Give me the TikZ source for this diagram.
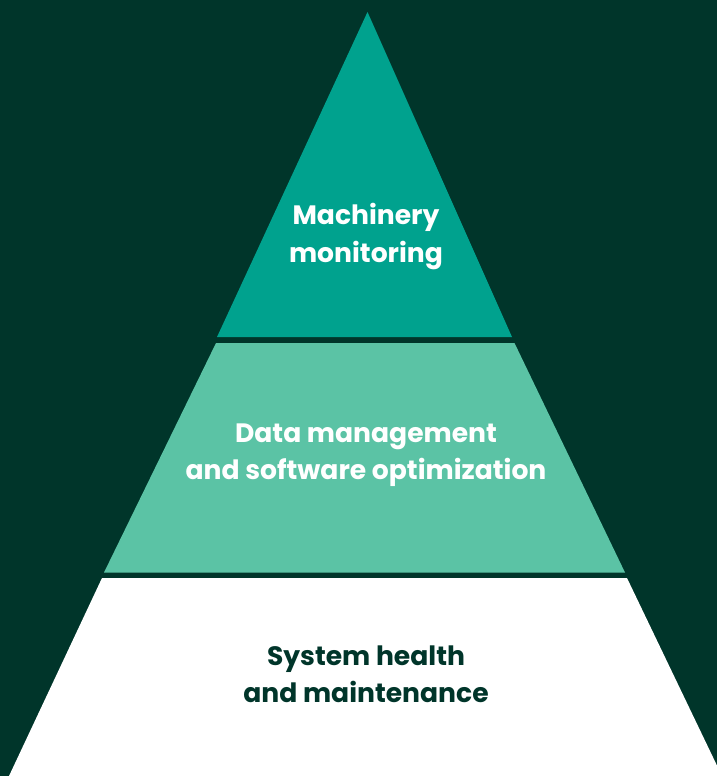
\documentclass[tikz,border=0pt]{standalone}
\usepackage{fontspec}
\setmainfont{Poppins}
\definecolor{bgdark}{HTML}{00352A}
\definecolor{tealtop}{HTML}{00A28E}
\definecolor{tealmid}{HTML}{5BC3A5}
\begin{document}
\begin{tikzpicture}[x=1pt,y=-1pt,
  tiertext/.style={font=\fontsize{26.6}{37.5}\selectfont\bfseries, align=center, text=white},
  darktext/.style={tiertext, text=bgdark}]
\fill[bgdark] (0,0) rectangle (717,776);
\useasboundingbox (0,0) rectangle (717,776);
\begin{scope}
\clip (0,0) rectangle (717,776);
\fill[tealtop] (367.5,12) -- (512,337) -- (217,337) -- cycle;
\fill[tealmid] (216,343) -- (514.5,343) -- (625,572.5) -- (104,572.5) -- cycle;
\fill[white] (102,578) -- (627,578) -- (722,776) -- (9,776) -- cycle;
\end{scope}
\node[tiertext] (top) at (366,236.5) {Machinery\\monitoring};
\node[tiertext] (mid) at (366,455) {Data management\\and software optimization};
\node[darktext] (bot) at (366,674.5) {System health\\and maintenance};
\end{tikzpicture}
\end{document}
